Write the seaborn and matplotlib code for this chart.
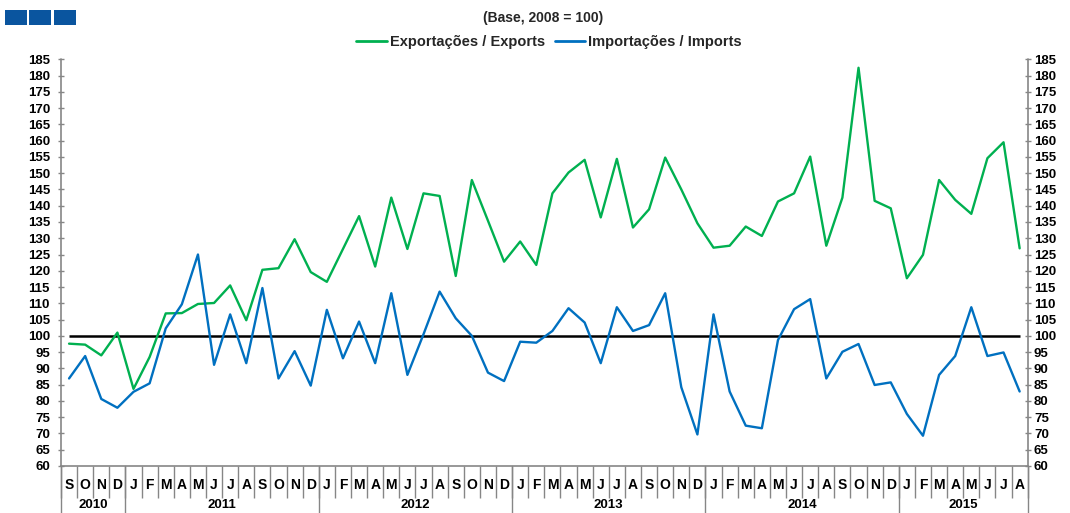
import matplotlib
matplotlib.use("Agg")
import matplotlib.pyplot as plt
import matplotlib.transforms as mtransforms
from matplotlib.lines import Line2D
from matplotlib.patches import Rectangle
import numpy as np
import pandas as pd
import seaborn as sns

# ---------------- data ----------------
years = ["2010", "2011", "2012", "2013", "2014", "2015"]
months_2010 = ["S", "O", "N", "D"]
months_full = ["J", "F", "M", "A", "M", "J", "J", "A", "S", "O", "N", "D"]
months_2015 = ["J", "F", "M", "A", "M", "J", "J", "A"]
month_labels = months_2010 + months_full * 4 + months_2015
months_per_year = [4, 12, 12, 12, 12, 8]

exports = [97.6, 97.3, 94.0, 101.0,
           83.7, 93.5, 106.9, 107.0, 109.8, 110.1, 115.5, 104.8, 120.3, 120.8, 129.7, 119.6,
           116.6, 126.7, 136.8, 121.3, 142.5, 126.7, 143.8, 143.0, 118.4, 147.9, 135.4, 122.8,
           129.0, 121.8, 143.8, 150.2, 154.1, 136.4, 154.4, 133.3, 138.9, 154.8, 145.0, 134.6,
           127.1, 127.7, 133.6, 130.7, 141.3, 143.8, 155.1, 127.7, 142.5, 182.4, 141.5, 139.2,
           117.7, 124.9, 147.9, 141.8, 137.5, 154.6, 159.5, 126.9]
imports = [86.9, 93.8, 80.6, 77.9,
           82.8, 85.4, 102.3, 109.7, 125.0, 91.1, 106.6, 91.6, 114.7, 86.9, 95.3, 84.7,
           108.0, 93.1, 104.4, 91.6, 113.1, 88.0, 100.5, 113.6, 105.4, 100.0, 88.7, 86.1,
           98.2, 97.9, 101.5, 108.5, 104.1, 91.6, 108.8, 101.5, 103.3, 113.1, 84.2, 69.7,
           106.6, 82.9, 72.4, 71.6, 98.7, 108.2, 111.3, 86.9, 95.1, 97.5, 84.9, 85.7,
           76.0, 69.3, 88.0, 93.8, 108.8, 93.8, 94.9, 82.9]
base_value = 100

series_names = ["Exportações / Exports", "Importações / Imports"]
subtitle = "(Base, 2008 = 100)"
y_min, y_max, y_step = 60, 185, 5

# ---------------- style ----------------
sns.set_theme(style="white")
plt.rcParams["font.family"] = ["Liberation Sans", "DejaVu Sans"]
plt.rcParams["font.weight"] = "bold"

GREEN = "#00B050"
BLUE = "#0070C0"
GREY = "#868686"
W, H = 1070, 513

fig = plt.figure(figsize=(W / 100, H / 100), dpi=100)
ax_left, ax_right, ax_top, ax_bot = 61, 1027.7, 59.3, 466
ax = fig.add_axes([ax_left / W, (H - ax_bot) / H, (ax_right - ax_left) / W, (ax_bot - ax_top) / H])

n = len(month_labels)
df = pd.DataFrame({
    "idx": list(range(n)) * 2,
    "value": exports + imports,
    "series": [series_names[0]] * n + [series_names[1]] * n,
})
sns.lineplot(data=df, x="idx", y="value", hue="series", hue_order=series_names,
             palette=[GREEN, BLUE], linewidth=1.7, legend=False, sort=False, ax=ax)
ax.hlines(base_value, 0, n - 1, colors="black", linewidth=1.8, zorder=1)

ax.set_xlim(-0.5, n - 0.5)
ax.set_ylim(y_min, y_max)
yticks = np.arange(y_min, y_max + 1, y_step)
ax.set_yticks(yticks)
ax.set_yticklabels([str(v) for v in yticks], fontsize=9.5, fontweight="bold")
ax.set_xlabel("")
ax.set_ylabel("")

ax2 = ax.twinx()
ax2.set_ylim(y_min, y_max)
ax2.set_yticks(yticks)
ax2.set_yticklabels([str(v) for v in yticks], fontsize=9.5, fontweight="bold")

for a in (ax, ax2):
    for s in a.spines.values():
        s.set_visible(False)
    a.grid(False)
ax.spines["bottom"].set_visible(True)
ax.spines["bottom"].set_color(GREY)
ax.spines["bottom"].set_linewidth(1.2)

ax.tick_params(axis="y", which="major", direction="inout", length=5, width=1.0,
               color=GREY, pad=5.5, labelcolor="black", left=True)
ax2.tick_params(axis="y", which="major", direction="inout", length=5, width=1.0,
                color=GREY, pad=2.0, labelcolor="black", right=True)

# month labels and separators
ax.set_xticks(range(n))
ax.set_xticklabels(month_labels, fontsize=10, fontweight="bold")
ax.set_xticks(np.arange(-0.5, n, 1.0), minor=True)
ax.tick_params(axis="x", which="major", length=0, pad=8.5, labelcolor="black")
ax.tick_params(axis="x", which="minor", direction="out", length=23, width=1.0, color=GREY, bottom=True)

trans = mtransforms.blended_transform_factory(ax.transData, ax.transAxes)
ax_h = ax_bot - ax_top
bounds = np.concatenate([[0], np.cumsum(months_per_year)]) - 0.5
for b in bounds:
    ax.add_line(Line2D([b, b], [0, -(H - ax_bot + 2) / ax_h], transform=trans,
                       color=GREY, linewidth=1.0, clip_on=False))
# full-height left / right axis lines
for b in (bounds[0], bounds[-1]):
    ax.add_line(Line2D([b, b], [0, 1], transform=trans, color=GREY, linewidth=1.2, clip_on=False))

for i, yr in enumerate(years):
    cx = (bounds[i] + bounds[i + 1]) / 2
    ax.text(cx, -(511.5 - ax_bot) / ax_h, yr, transform=trans, ha="center", va="bottom",
            fontsize=9.5, fontweight="bold", color="black")

# header
for x0 in (5, 29, 54):
    fig.patches.append(Rectangle((x0 / W, (H - 25) / H), 22 / W, 15 / H,
                                 transform=fig.transFigure, facecolor="#0A559F",
                                 edgecolor="none"))
fig.text(543 / W, 1 - 18 / H, subtitle, ha="center", va="center", fontsize=10, fontweight="bold")

handles = [Line2D([], [], color=GREEN, linewidth=2), Line2D([], [], color=BLUE, linewidth=2)]
fig.legend(handles, series_names, loc="center", bbox_to_anchor=(549 / W, 1 - 42 / H),
           ncol=2, frameon=False, handlelength=2.1, handletextpad=0.2, columnspacing=0.7,
           prop={"size": 10.5, "weight": "bold"}, borderpad=0)

fig.savefig("out.png", dpi=100)
